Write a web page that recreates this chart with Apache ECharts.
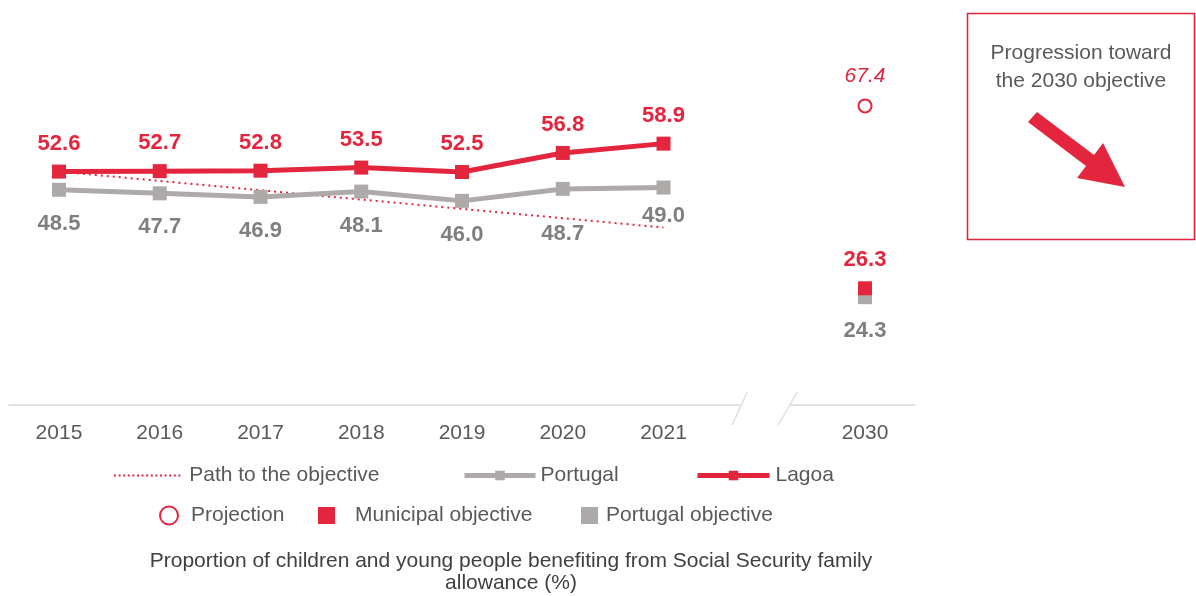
<!DOCTYPE html>
<html>
<head>
<meta charset="utf-8">
<script src="https://cdn.jsdelivr.net/npm/echarts@6/dist/echarts.min.js"></script>
<style>
html,body{margin:0;padding:0;background:#fff;}
#chart{width:1196px;height:596px;}
</style>
</head>
<body>
<div id="chart"></div>
<script>
// ---- data ----
var categories = ['2015','2016','2017','2018','2019','2020','2021','','2030'];
var lagoa      = [52.6, 52.7, 52.8, 53.5, 52.5, 56.8, 58.9];
var portugal   = [48.5, 47.7, 46.9, 48.1, 46.0, 48.7, 49.0];
var pathToObjective = [52.6, 50.5, 48.4, 46.3, 44.2, 42.1, 40.0];
var projection2030 = 67.4;
var municipalObjective2030 = 26.3;
var portugalObjective2030 = 24.3;
var targetCategory = '2030';
var captionLines = ['Proportion of children and young people benefiting from Social Security family', 'allowance (%)'];
var boxLines = ['Progression toward', 'the 2030 objective'];

// ---- styles ----
var RED = '#E3253D';
var GREY = '#AEAAAA';
var GREY_LABEL = '#7F7F7F';
var TEXT = '#595959';
var FONT = '"Liberation Sans", Arial, sans-serif';
// extra vertical shift of some Portugal labels (px)
var portugalLabelShift = [0, 0, 0, 0, 0, 11, -6];

// dotted legend icon
var dotPath = 'path://';
for (var i = 0; i < 15; i++) { dotPath += 'M' + (i * 4.6) + ',0h2v2h-2z'; }

var chart = echarts.init(document.getElementById('chart'));

function legendAt(item, left, top, w, h, pad) {
  return {
    data: [item], left: left, top: top, itemWidth: w, itemHeight: h,
    selectedMode: false, padding: 0,
    textStyle: { fontFamily: FONT, fontSize: 21, color: TEXT, padding: [0, 0, 0, pad] }
  };
}

var option = {
  animation: false,
  textStyle: { fontFamily: FONT },
  grid: { left: 8.6, right: 1196 - 915.4, top: 50, bottom: 191, containLabel: false },
  xAxis: {
    type: 'category', data: categories,
    axisLine: { show: false }, axisTick: { show: false },
    axisLabel: { color: TEXT, fontSize: 21, margin: 18, fontFamily: FONT }
  },
  yAxis: { type: 'value', min: 0, max: 80, show: false, splitLine: { show: false } },
  legend: [
    legendAt({ name: 'Path to the objective', icon: dotPath, itemStyle: { color: RED } }, 114, 465, 68, 2, 3),
    legendAt({ name: 'Portugal', lineStyle: { width: 5 } }, 462, 465, 71, 12, 0),
    legendAt({ name: 'Lagoa', lineStyle: { width: 5 } }, 695, 465, 72, 12, 1),
    legendAt({ name: 'Projection' }, 159, 505, 18, 18, 8),
    legendAt({ name: 'Municipal objective' }, 318, 505, 17, 17, 15),
    legendAt({ name: 'Portugal objective' }, 581, 505, 17, 17, 3)
  ],
  title: {
    text: captionLines.join('\n'),
    left: 511, top: 550, textAlign: 'center', padding: 0,
    textStyle: { fontFamily: FONT, fontSize: 21, fontWeight: 'normal', color: '#404040', lineHeight: 22 }
  },
  series: [
    {
      name: 'Path to the objective', type: 'line', data: pathToObjective,
      symbol: 'none', z: 1,
      lineStyle: { color: RED, width: 2, type: [2, 4] },
      itemStyle: { color: RED }
    },
    {
      name: 'Portugal', type: 'line', z: 2,
      data: portugal.map(function (v, i) {
        return { value: v, label: { offset: [0, portugalLabelShift[i]] } };
      }),
      symbol: 'rect', symbolSize: 14,
      lineStyle: { color: GREY, width: 5 },
      itemStyle: { color: GREY },
      label: {
        show: true, position: 'bottom', distance: 16,
        color: GREY_LABEL, fontSize: 22, fontWeight: 'bold', fontFamily: FONT,
        formatter: function (p) { return p.value.toFixed(1); }
      }
    },
    {
      name: 'Lagoa', type: 'line', data: lagoa, z: 3,
      symbol: 'rect', symbolSize: 14,
      lineStyle: { color: RED, width: 5 },
      itemStyle: { color: RED },
      label: {
        show: true, position: 'top', distance: 10,
        color: RED, fontSize: 22, fontWeight: 'bold', fontFamily: FONT,
        formatter: function (p) { return p.value.toFixed(1); }
      }
    },
    {
      name: 'Projection', type: 'scatter', data: [[targetCategory, projection2030]],
      symbol: 'circle', symbolSize: 13, z: 4,
      itemStyle: { color: '#fff', borderColor: RED, borderWidth: 2, opacity: 1 },
      label: {
        show: true, position: 'top', distance: 12,
        color: RED, fontSize: 21, fontStyle: 'italic', fontFamily: FONT,
        formatter: function (p) { return p.value[1].toFixed(1); }
      }
    },
    {
      name: 'Portugal objective', type: 'scatter', data: [[targetCategory, portugalObjective2030]],
      symbol: 'rect', symbolSize: 14, z: 4,
      itemStyle: { color: GREY, opacity: 1 },
      label: {
        show: true, position: 'bottom', distance: 16,
        color: GREY_LABEL, fontSize: 22, fontWeight: 'bold', fontFamily: FONT,
        formatter: function (p) { return p.value[1].toFixed(1); }
      }
    },
    {
      name: 'Municipal objective', type: 'scatter', data: [[targetCategory, municipalObjective2030]],
      symbol: 'rect', symbolSize: 14, z: 5,
      itemStyle: { color: RED, opacity: 1 },
      label: {
        show: true, position: 'top', distance: 10,
        color: RED, fontSize: 22, fontWeight: 'bold', fontFamily: FONT,
        formatter: function (p) { return p.value[1].toFixed(1); }
      }
    }
  ]
};
chart.setOption(option);

// decorations: broken x-axis line, info box with arrow
var gapCenter = chart.convertToPixel({ xAxisIndex: 0 }, 7);
var axisY = chart.convertToPixel({ yAxisIndex: 0 }, 0);
var gridLeft = 8.6, gridRight = 915.4;
var AX = '#D9D9D9';
chart.setOption({
  graphic: [
    { type: 'line', shape: { x1: gridLeft, y1: axisY, x2: gapCenter - 24, y2: axisY }, style: { stroke: AX, lineWidth: 1.5 } },
    { type: 'line', shape: { x1: gapCenter + 26, y1: axisY, x2: gridRight, y2: axisY }, style: { stroke: AX, lineWidth: 1.5 } },
    { type: 'line', shape: { x1: gapCenter - 17, y1: axisY - 13, x2: gapCenter - 32, y2: axisY + 20 }, style: { stroke: AX, lineWidth: 1.2 } },
    { type: 'line', shape: { x1: gapCenter + 33, y1: axisY - 13, x2: gapCenter + 14, y2: axisY + 20 }, style: { stroke: AX, lineWidth: 1.2 } },
    { type: 'rect', shape: { x: 967.5, y: 13.5, width: 227, height: 226 }, style: { fill: 'none', stroke: RED, lineWidth: 1.6 } },
    { type: 'text', x: 1081, y: 53, style: { text: boxLines[0], textAlign: 'center', textVerticalAlign: 'middle', font: '21px ' + FONT, fill: TEXT } },
    { type: 'text', x: 1081, y: 81, style: { text: boxLines[1], textAlign: 'center', textVerticalAlign: 'middle', font: '21px ' + FONT, fill: TEXT } },
    { type: 'polygon', shape: { points: [[1037,112],[1094,155],[1103,143],[1125,187],[1077,178],[1086,166],[1028,122]] }, style: { fill: RED } }
  ]
});
</script>
</body>
</html>
